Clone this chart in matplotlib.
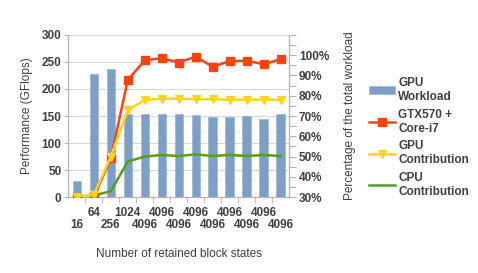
import numpy as np
import matplotlib
matplotlib.use("Agg")
import matplotlib.pyplot as plt
from matplotlib.transforms import blended_transform_factory
from matplotlib.patches import Patch
from matplotlib.lines import Line2D

plt.rcParams["font.family"] = ["Liberation Sans", "DejaVu Sans"]
plt.rcParams["font.weight"] = "bold"

labels = ["16", "64", "256", "1024"] + ["4096"] * 9
workload = [38, 90.5, 93, 71, 71, 71, 71, 70.5, 69.3, 69.4, 70, 68.5, 71]     # % (right)
total = [0, 0, 72, 217, 253, 257, 249, 260, 241, 252, 252, 246, 255]          # GFlops
gpu = [0, 4, 75, 161, 180, 182, 182, 181, 181, 180, 180.5, 180.5, 180]
cpu = [1, 3, 11, 66, 75, 78, 76, 79, 76, 78, 76, 78, 76]

TXT = "#404040"
GRID = "#d9d9d9"
BAR = "#7b9fc7"
EDGE = "#6a8db8"
RED, YEL, GRN = "#ff420e", "#ffd320", "#579d1c"
FS = 8.5

fig = plt.figure(figsize=(4.78, 2.73), dpi=100)
ax = fig.add_axes([0.143, 0.278, 0.462, 0.594])
ax2 = ax.twinx()
ax.set_zorder(2); ax2.set_zorder(1)
ax.patch.set_visible(False)

x = np.arange(len(labels))
ax2.bar(x, np.array(workload) - 30, bottom=30, width=0.5, color=BAR,
        edgecolor=EDGE, linestyle=":", linewidth=0.5, zorder=2)

ax.set_ylim(0, 300)
ax2.set_ylim(30, 110)
ax.set_xlim(-0.5, len(labels) - 0.5)

# grid lines behind bars
tr = blended_transform_factory(ax2.transAxes, ax.transData)
for g in range(50, 301, 50):
    ax2.plot([0, 1], [g, g], transform=tr, color=GRID, lw=0.8, zorder=0)

ax.plot(x, cpu, color=GRN, lw=1.8, zorder=3)
ax.plot(x, total, color=RED, lw=1.8, marker="s", ms=6, zorder=4)
ax.plot(x, gpu, color=YEL, lw=1.8, marker="v", ms=6, zorder=5)

ax.set_yticks(range(0, 301, 50))
ax.tick_params(axis="y", length=3, color="#b3b3b3", labelsize=FS,
               labelcolor=TXT, pad=2)
ax2.set_yticks(np.arange(30, 111, 5))
ax2.set_yticklabels(["%d%%" % v if v % 10 == 0 and v <= 100 else ""
                     for v in range(30, 111, 5)])
ax2.tick_params(axis="y", length=5, color="#b3b3b3", labelsize=FS,
                labelcolor=TXT, pad=2)

# two staggered rows of category labels
ax.set_xticks(x[1::2])
ax.set_xticklabels(labels[1::2])
ax.set_xticks(x[:-1] + 0.5, minor=True)
ax.tick_params(axis="x", which="major", length=0, labelsize=FS,
               labelcolor=TXT, pad=7)
ax.tick_params(axis="x", which="minor", length=4, color="#b3b3b3")
ax2.tick_params(axis="x", length=0)
sec = ax.secondary_xaxis(0)
sec.set_xticks(x[0::2])
sec.set_xticklabels(labels[0::2])
sec.tick_params(axis="x", length=0, labelsize=FS, labelcolor=TXT, pad=16)
sec.spines["bottom"].set_visible(False)

for a in (ax, ax2):
    for s in a.spines.values():
        s.set_color("#b3b3b3")
    a.spines["top"].set_visible(False)

sec.set_xlabel("Number of retained block states", fontsize=FS, color=TXT,
               labelpad=12)
ax.set_ylabel("Performance (GFlops)", fontsize=FS, color=TXT, labelpad=6)
ax2.set_ylabel("Percentage of the total workload", fontsize=FS, color=TXT,
               labelpad=11)

handles = [
    Patch(facecolor=BAR, edgecolor=EDGE, linestyle=":", linewidth=0.5),
    Line2D([], [], color=RED, lw=1.8, marker="s", ms=6),
    Line2D([], [], color=YEL, lw=1.8, marker="v", ms=6),
    Line2D([], [], color=GRN, lw=1.8),
]
names = ["GPU\nWorkload", "GTX570 +\nCore-i7", "GPU\nContribution",
         "CPU\nContribution"]
leg = fig.legend(handles, names, loc="upper left",
                 bbox_to_anchor=(0.762, 0.735), frameon=False, fontsize=FS,
                 handlelength=2.2, handletextpad=0.3, labelspacing=0.5,
                 borderaxespad=0)
for t in leg.get_texts():
    t.set_color(TXT)

fig.savefig("out.png", dpi=100)
